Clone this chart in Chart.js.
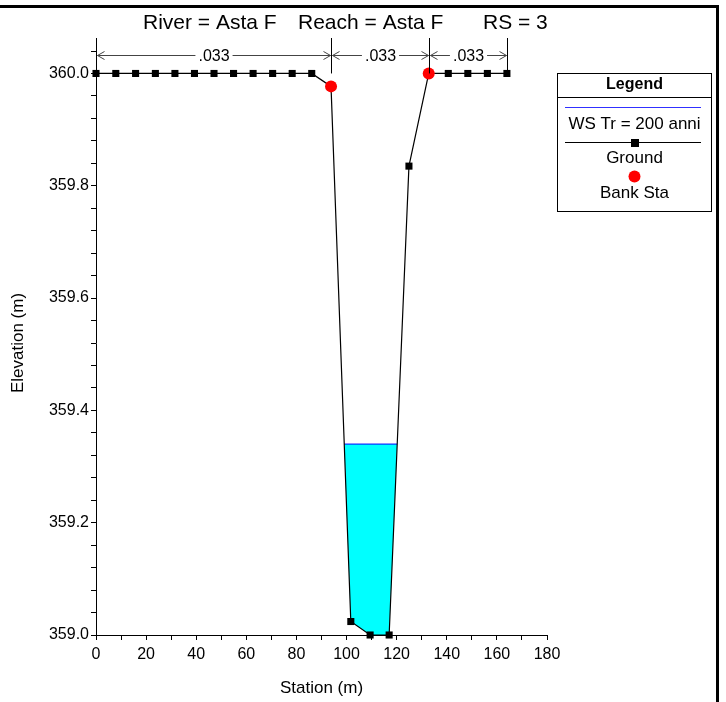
<!DOCTYPE html>
<html>
<head>
<meta charset="utf-8">
<script src="https://cdn.jsdelivr.net/npm/chart.js@4"></script>
<style>
  html, body { margin: 0; padding: 0; background: #fff; }
  #wrap { position: relative; width: 726px; height: 702px; }
</style>
</head>
<body>
<div id="wrap"><canvas id="c" width="726" height="702"></canvas></div>
<script>
// ---- Data ----
const groundStation = [0, 7.9, 15.8, 23.7, 31.5, 39.3, 47.1, 54.9, 62.7, 70.5, 78.3, 86.1,
                       93.8, 101.7, 109.4, 117.0, 124.9, 132.8, 140.6, 148.4, 156.2, 164.0];
const groundElev    = [360.0, 360.0, 360.0, 360.0, 360.0, 360.0, 360.0, 360.0, 360.0, 360.0, 360.0, 360.0,
                       359.977, 359.024, 359.0, 359.0, 359.835, 360.0, 360.0, 360.0, 360.0, 360.0];
const bankStation = [93.8, 132.8];
const bankElev    = [359.977, 360.0];
const wsElev = 359.34;                       // WS Tr = 200 anni
const manningN = ['.033', '.033', '.033'];   // LOB, channel, ROB
const titleParts = ['River = Asta F', 'Reach = Asta F', 'RS = 3'];
const xTickStep = 10, xLabelStep = 20;
const yTickStep = 0.04, yLabelStep = 0.2;

// ---- Derived: water surface extent inside channel ----
function waterPolygon() {
  const pts = [];
  const iL = groundStation.indexOf(bankStation[0]);
  const iR = groundStation.indexOf(bankStation[1]);
  for (let i = iL; i < iR; i++) {
    const x0 = groundStation[i], y0 = groundElev[i], x1 = groundStation[i+1], y1 = groundElev[i+1];
    if (y0 <= wsElev && pts.length === 0) pts.push({x: x0, y: y0});
    if ((y0 - wsElev) * (y1 - wsElev) < 0) {
      const t = (wsElev - y0) / (y1 - y0);
      pts.push({x: x0 + t * (x1 - x0), y: wsElev});
    }
    if (y1 <= wsElev) pts.push({x: x1, y: y1});
  }
  return pts;
}
const water = waterPolygon();
const wsLine = [{x: water[0].x, y: wsElev}, {x: water[water.length-1].x, y: wsElev}];

const FONT = "Arial, 'Liberation Sans', sans-serif";

const decorPlugin = {
  id: 'decor',
  afterDraw(chart) {
    const ctx = chart.ctx;
    const xs = chart.scales.x, ys = chart.scales.y;
    ctx.save();
    // frame
    ctx.fillStyle = '#000';
    ctx.fillRect(0, 5, 719, 3);
    ctx.fillRect(716, 5, 3, 697);

    // title
    ctx.fillStyle = '#000';
    ctx.font = '21px ' + FONT;
    ctx.textBaseline = 'middle';
    ctx.textAlign = 'left';
    ctx.fillText(titleParts[0], 143, 23);
    ctx.fillText(titleParts[1], 298, 23);
    ctx.fillText(titleParts[2], 483, 23);

    // Manning n dimension lines
    const ends = [groundStation[0], bankStation[0], bankStation[1], groundStation[groundStation.length-1]];
    const px = ends.map(v => Math.round(xs.getPixelForValue(v)) + 0.5);
    const yTop = 38, yBot = ys.getPixelForValue(360.0), yArr = 55.5;
    ctx.strokeStyle = '#000';
    ctx.lineWidth = 1;
    px.forEach(p => { ctx.beginPath(); ctx.moveTo(p, yTop); ctx.lineTo(p, yBot); ctx.stroke(); });
    ctx.font = '16px ' + FONT;
    ctx.textAlign = 'center';
    for (let i = 0; i < 3; i++) {
      const a = px[i] + 1, b = px[i+1] - 1, mid = (a + b) / 2;
      const tw = ctx.measureText(manningN[i]).width;
      ctx.strokeStyle = '#444';
      ctx.beginPath();
      ctx.moveTo(a, yArr); ctx.lineTo(mid - tw/2 - 3, yArr);
      ctx.moveTo(mid + tw/2 + 3, yArr); ctx.lineTo(b, yArr);
      ctx.moveTo(a + 7, yArr - 4); ctx.lineTo(a, yArr); ctx.lineTo(a + 7, yArr + 4);
      ctx.moveTo(b - 7, yArr - 4); ctx.lineTo(b, yArr); ctx.lineTo(b - 7, yArr + 4);
      ctx.stroke();
      ctx.fillStyle = '#000';
      ctx.fillText(manningN[i], mid, yArr + 1);
    }

    // legend box
    const L = 557.5, R = 711.5, T = 73.5, B = 211.5, cx = (L + R) / 2;
    ctx.fillStyle = '#fff';
    ctx.fillRect(L, T, R - L, B - T);
    ctx.strokeStyle = '#000';
    ctx.lineWidth = 1;
    ctx.strokeRect(L, T, R - L, B - T);
    ctx.beginPath(); ctx.moveTo(L, 97.5); ctx.lineTo(R, 97.5); ctx.stroke();
    ctx.fillStyle = '#000';
    ctx.font = 'bold 16px ' + FONT;
    ctx.fillText('Legend', cx, 85);
    ctx.font = '17px ' + FONT;
    ctx.strokeStyle = '#3030ff';
    ctx.beginPath(); ctx.moveTo(565, 107.5); ctx.lineTo(701, 107.5); ctx.stroke();
    ctx.fillText('WS Tr = 200 anni', cx, 124);
    ctx.strokeStyle = '#000';
    ctx.beginPath(); ctx.moveTo(565, 142.5); ctx.lineTo(701, 142.5); ctx.stroke();
    ctx.fillRect(Math.round(cx) - 4, 139, 8, 8);
    ctx.fillText('Ground', cx, 158);
    ctx.fillStyle = '#ff0000';
    ctx.beginPath(); ctx.arc(cx, 176.5, 6, 0, Math.PI * 2); ctx.fill();
    ctx.fillStyle = '#000';
    ctx.fillText('Bank Sta', cx, 193);
    ctx.restore();
  }
};

new Chart(document.getElementById('c'), {
  type: 'scatter',
  data: {
    datasets: [
      {
        label: 'Bank Sta',
        data: bankStation.map((x, i) => ({x, y: bankElev[i]})),
        showLine: false,
        pointStyle: 'circle',
        pointRadius: 6,
        pointBackgroundColor: '#ff0000',
        pointBorderColor: '#ff0000',
        pointBorderWidth: 0,
        clip: false
      },
      {
        label: 'Ground',
        data: groundStation.map((x, i) => ({x, y: groundElev[i]})),
        showLine: true,
        borderColor: '#000',
        borderWidth: 1.2,
        pointStyle: 'rect',
        pointRadius: 5,
        pointBackgroundColor: '#000',
        pointBorderColor: '#000',
        pointBorderWidth: 0,
        clip: false
      },
      {
        label: 'WS Tr = 200 anni',
        data: wsLine,
        showLine: true,
        borderColor: '#0000ff',
        borderWidth: 1,
        pointRadius: 0,
        clip: false
      },
      {
        label: 'water',
        data: water,
        showLine: true,
        borderWidth: 0,
        borderColor: 'rgba(0,0,0,0)',
        backgroundColor: '#00ffff',
        fill: {value: wsElev},
        pointRadius: 0,
        clip: false
      }
    ]
  },
  options: {
    responsive: false,
    animation: false,
    devicePixelRatio: 1,
    layout: { padding: { left: 0, right: 179, top: 51, bottom: 0 } },
    plugins: {
      legend: { display: false },
      title: { display: false },
      tooltip: { enabled: false },
      filler: { propagate: false }
    },
    scales: {
      x: {
        type: 'linear',
        min: 0, max: 180,
        afterFit(s) { s.height = 67; },
        border: { display: true, color: '#000', width: 1 },
        grid: { drawOnChartArea: false, drawTicks: true, tickLength: 5, color: '#000' },
        ticks: {
          stepSize: xTickStep, autoSkip: false, maxRotation: 0, padding: 5,
          color: '#000', font: { family: FONT, size: 16 },
          callback: v => (Math.abs(v % xLabelStep) < 1e-6 ? String(v) : '')
        },
        title: { display: true, text: 'Station (m)', color: '#000',
                 font: { family: FONT, size: 17 }, padding: { top: 0, bottom: 3 } }
      },
      y: {
        type: 'linear',
        min: 359.0, max: 360.04,
        afterFit(s) { s.width = 96; },
        border: { display: true, color: '#000', width: 1 },
        grid: { drawOnChartArea: false, drawTicks: true, tickLength: 5, color: '#000' },
        ticks: {
          stepSize: yTickStep, autoSkip: false, padding: 2,
          color: '#000', font: { family: FONT, size: 16 },
          callback: v => {
            const k = v / yLabelStep;
            return Math.abs(k - Math.round(k)) < 1e-6 ? v.toFixed(1) : '';
          }
        },
        title: { display: true, text: 'Elevation (m)', color: '#000',
                 font: { family: FONT, size: 17 }, padding: { top: 8, bottom: 0 } }
      }
    }
  },
  plugins: [decorPlugin]
});
</script>
</body>
</html>
